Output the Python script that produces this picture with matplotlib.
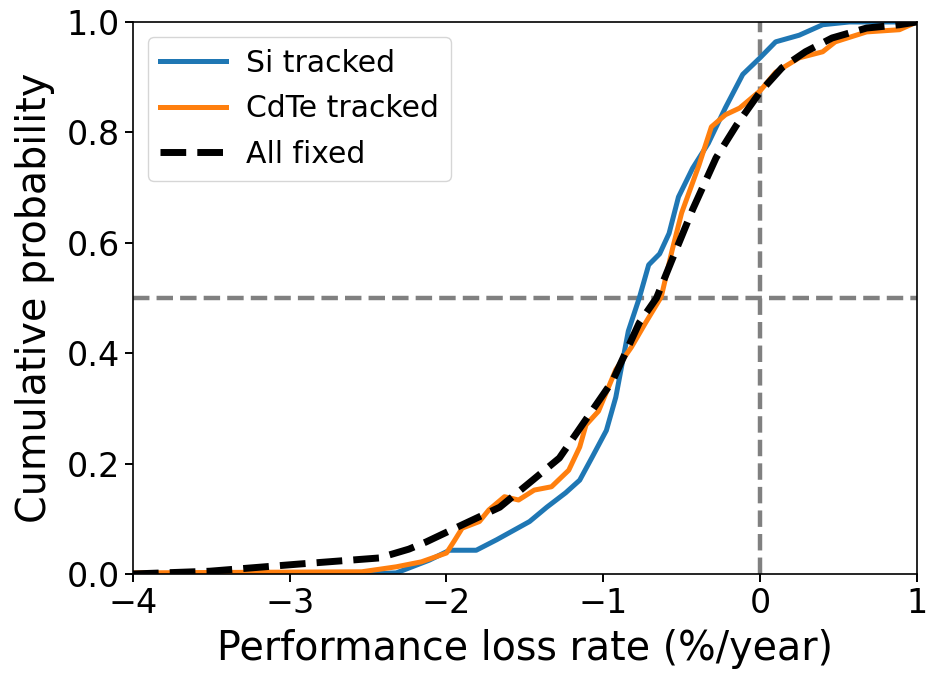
import numpy as np
import matplotlib
matplotlib.use("Agg")
from matplotlib import pyplot as plt

# empirical CDFs of the loss rate, traced as (rate, probability) pairs
si_rate = [-4.0, -2.49, -2.32, -2.11, -1.98, -1.81, -1.68, -1.47, -1.36, -1.24, -1.15,
           -1.07, -0.98, -0.92, -0.84, -0.77, -0.71, -0.64, -0.58, -0.52, -0.43, -0.33,
           -0.22, -0.11, 0.0, 0.10, 0.25, 0.40, 0.57, 1.0]
si_prob = [0.0, 0.0, 0.002, 0.025, 0.043, 0.043, 0.062, 0.095, 0.121, 0.147, 0.17,
           0.212, 0.26, 0.32, 0.44, 0.50, 0.56, 0.58, 0.617, 0.683, 0.735, 0.78,
           0.845, 0.905, 0.935, 0.964, 0.976, 0.995, 1.0, 1.0]

cdte_rate = [-4.0, -2.54, -2.32, -2.16, -2.00, -1.95, -1.90, -1.79, -1.73, -1.63, -1.54,
             -1.44, -1.33, -1.22, -1.15, -1.11, -1.03, -0.92, -0.82, -0.73, -0.63, -0.56,
             -0.50, -0.39, -0.31, -0.22, -0.13, 0.0, 0.10, 0.25, 0.40, 0.48, 0.68, 0.89, 1.0]
cdte_prob = [0.002, 0.004, 0.013, 0.022, 0.038, 0.06, 0.083, 0.095, 0.116, 0.14, 0.134,
             0.152, 0.158, 0.188, 0.23, 0.27, 0.295, 0.37, 0.411, 0.455, 0.502, 0.587,
             0.654, 0.74, 0.81, 0.832, 0.844, 0.875, 0.909, 0.935, 0.946, 0.964, 0.982, 0.986, 1.0]

fixed_rate = [-4.0, -3.51, -2.94, -2.43, -2.24, -2.13, -1.90, -1.66, -1.45, -1.28, -1.11,
              -0.94, -0.77, -0.66, -0.56, -0.43, -0.28, -0.15, 0.0, 0.14, 0.29, 0.46,
              0.68, 0.89, 1.0]
fixed_prob = [0.0, 0.005, 0.018, 0.029, 0.045, 0.058, 0.089, 0.121, 0.17, 0.21, 0.28,
              0.35, 0.455, 0.50, 0.57, 0.66, 0.754, 0.813, 0.873, 0.917, 0.946, 0.971,
              0.989, 0.995, 1.0]

x_ticks = [-4, -3, -2, -1, 0, 1]
y_ticks = [0.0, 0.2, 0.4, 0.6, 0.8, 1.0]

fig = plt.figure(figsize=(9.26, 6.74), dpi=100)
ax = fig.add_axes([0.1436, 0.1484, 0.8464, 0.819])

ax.plot(si_rate, si_prob, color="#1f77b4", lw=3.6, label="Si tracked")
ax.plot(cdte_rate, cdte_prob, color="#ff7f0e", lw=3.6, label="CdTe tracked")
ax.plot(fixed_rate, fixed_prob, color="black", lw=5.0, ls="--", label="All fixed")

# reference lines at zero loss and the median
ax.axhline(0.5, color="gray", lw=3.2, ls="--", zorder=0)
ax.axvline(0.0, color="gray", lw=3.2, ls="--", zorder=0)

ax.set_xlim(-4, 1)
ax.set_ylim(0, 1)
ax.set_xticks(x_ticks)
ax.set_yticks(y_ticks)
ax.set_xticklabels([f"\u2212{abs(t)}" if t < 0 else str(t) for t in x_ticks])
ax.set_yticklabels([f"{t:.1f}" for t in y_ticks])
ax.tick_params(labelsize=24, width=1.4, length=6)
for sp in ax.spines.values():
    sp.set_linewidth(1.2)

ax.set_xlabel("Performance loss rate (%/year)", fontsize=28.5, labelpad=6)
ax.set_ylabel("Cumulative probability", fontsize=28.5, labelpad=8)
ax.legend(loc="upper left", fontsize=21.5, handlelength=2.2, handletextpad=0.7,
          labelspacing=0.55, borderaxespad=0.5, borderpad=0.4)

fig.savefig("out.png", dpi=100)
